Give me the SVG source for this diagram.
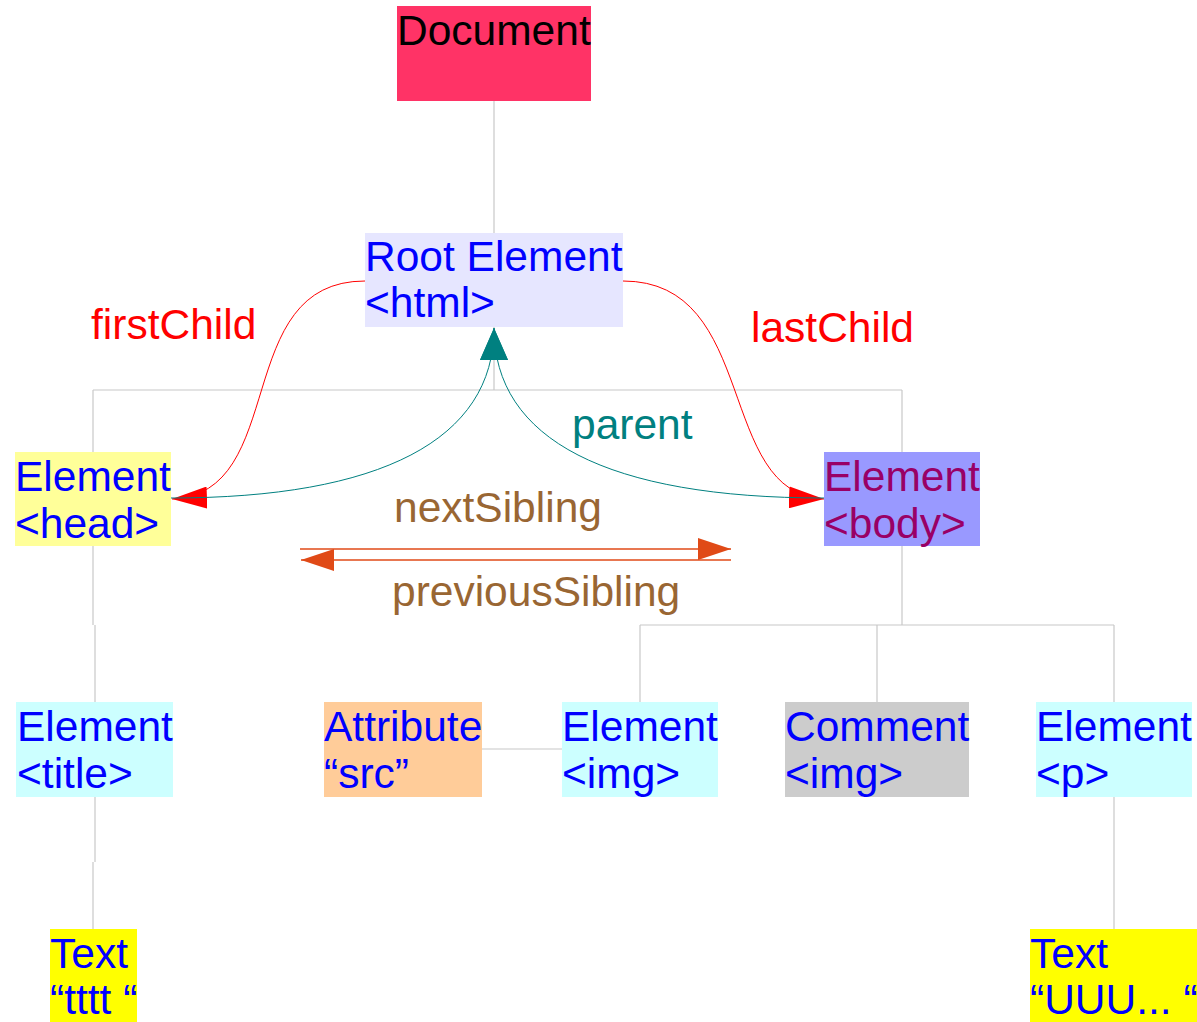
<svg xmlns="http://www.w3.org/2000/svg" width="1197" height="1022" viewBox="0 0 1197 1022">
<style>
text{font-family:"Liberation Sans",Arial,sans-serif;font-size:42.5px}
.blue{fill:#0000ff}
.tree{fill:none;stroke:#c8c8c8;stroke-width:1.2}
.red{fill:none;stroke:#ff0000;stroke-width:1}
.teal{fill:none;stroke:#008080;stroke-width:1}
.sib{fill:none;stroke:#e04a17;stroke-width:1.3}
</style>
<defs>
<marker id="aRed" markerUnits="userSpaceOnUse" viewBox="0 0 35 22" markerWidth="35" markerHeight="22" refX="35" refY="11" orient="auto"><path d="M0,0 L35,11 L0,22 z" fill="#ff0000"/></marker>
<marker id="aTeal" markerUnits="userSpaceOnUse" viewBox="0 0 32 28" markerWidth="32" markerHeight="28" refX="32" refY="14" orient="auto"><path d="M0,0 L32,14 L0,28 z" fill="#008080"/></marker>
<marker id="aSib" markerUnits="userSpaceOnUse" viewBox="0 0 33 22" markerWidth="33" markerHeight="22" refX="33" refY="11" orient="auto"><path d="M0,0 L33,11 L0,22 z" fill="#e04a17"/></marker>
</defs>
<rect width="1197" height="1022" fill="#ffffff"/>
<g id="connectors">
<path class="tree" d="M494,101 V233"/>
<path class="tree" d="M494,327 V390 M93,390 H902 M93,390 V452 M902,390 V452"/>
<path class="tree" d="M93,546 V625 M95,625 V702"/>
<path class="tree" d="M95,797 V862 M93,862 V929"/>
<path class="tree" d="M902,546 V625 M640,625 H1114 M640,625 V702 M877,625 V702 M1114,625 V702"/>
<path class="tree" d="M482,749 H562"/>
<path class="tree" d="M1114,797 V929"/>
<path class="red" d="M365,281 C230,281 290,494 172,499" marker-end="url(#aRed)"/>
<path class="red" d="M623,281 C760,281 715,494 824,499" marker-end="url(#aRed)"/>
<path class="teal" d="M171,498 C380,498 494,440 494,328" marker-end="url(#aTeal)"/>
<path class="teal" d="M824,498 C608,498 494,440 494,328" marker-end="url(#aTeal)"/>
<path class="sib" d="M300,549 H731" marker-end="url(#aSib)"/>
<path class="sib" d="M731,560 H301" marker-end="url(#aSib)"/>
<text x="91" y="339" fill="#ff0000">firstChild</text>
<text x="751" y="342" fill="#ff0000">lastChild</text>
<text x="572" y="439" fill="#008080">parent</text>
<text x="394" y="522" fill="#996633">nextSibling</text>
<text x="392" y="606" fill="#996633">previousSibling</text>
</g>
<g id="document">
<rect x="397" y="6" width="194" height="95" fill="#ff3366"/>
<text x="397" y="45" fill="#000000">Document</text>
</g>
<g id="root">
<rect x="365" y="233" width="258" height="94" fill="#e6e6ff"/>
<text x="365" y="271" class="blue">Root Element</text>
<text x="365" y="317" class="blue">&lt;html&gt;</text>
</g>
<g id="head">
<rect x="15" y="452" width="156" height="94" fill="#ffff99"/>
<text x="15" y="491" class="blue">Element</text>
<text x="15" y="538" class="blue">&lt;head&gt;</text>
</g>
<g id="body">
<rect x="824" y="452" width="156" height="94" fill="#9999ff"/>
<text x="824" y="491" fill="#990066">Element</text>
<text x="824" y="538" fill="#990066">&lt;body&gt;</text>
</g>
<g id="title">
<rect x="16" y="702" width="157" height="95" fill="#ccffff"/>
<text x="17" y="741" class="blue">Element</text>
<text x="17" y="788" class="blue">&lt;title&gt;</text>
</g>
<g id="attribute">
<rect x="324" y="702" width="158" height="95" fill="#ffcc99"/>
<text x="324" y="741" class="blue">Attribute</text>
<text x="324" y="788" class="blue">“src”</text>
</g>
<g id="img">
<rect x="562" y="702" width="156" height="95" fill="#ccffff"/>
<text x="562" y="741" class="blue">Element</text>
<text x="562" y="788" class="blue">&lt;img&gt;</text>
</g>
<g id="comment">
<rect x="785" y="702" width="184" height="95" fill="#cccccc"/>
<text x="785" y="741" class="blue">Comment</text>
<text x="785" y="788" class="blue">&lt;img&gt;</text>
</g>
<g id="p">
<rect x="1036" y="702" width="156" height="95" fill="#ccffff"/>
<text x="1036" y="741" class="blue">Element</text>
<text x="1036" y="788" class="blue">&lt;p&gt;</text>
</g>
<g id="text1">
<rect x="50" y="929" width="87" height="93" fill="#ffff00"/>
<text x="50" y="968" class="blue">Text</text>
<text x="50" y="1014" class="blue">“tttt “</text>
</g>
<g id="text2">
<rect x="1030" y="929" width="167" height="93" fill="#ffff00"/>
<text x="1030" y="968" class="blue">Text</text>
<text x="1030" y="1014" class="blue">“UUU... “</text>
</g>
</svg>
